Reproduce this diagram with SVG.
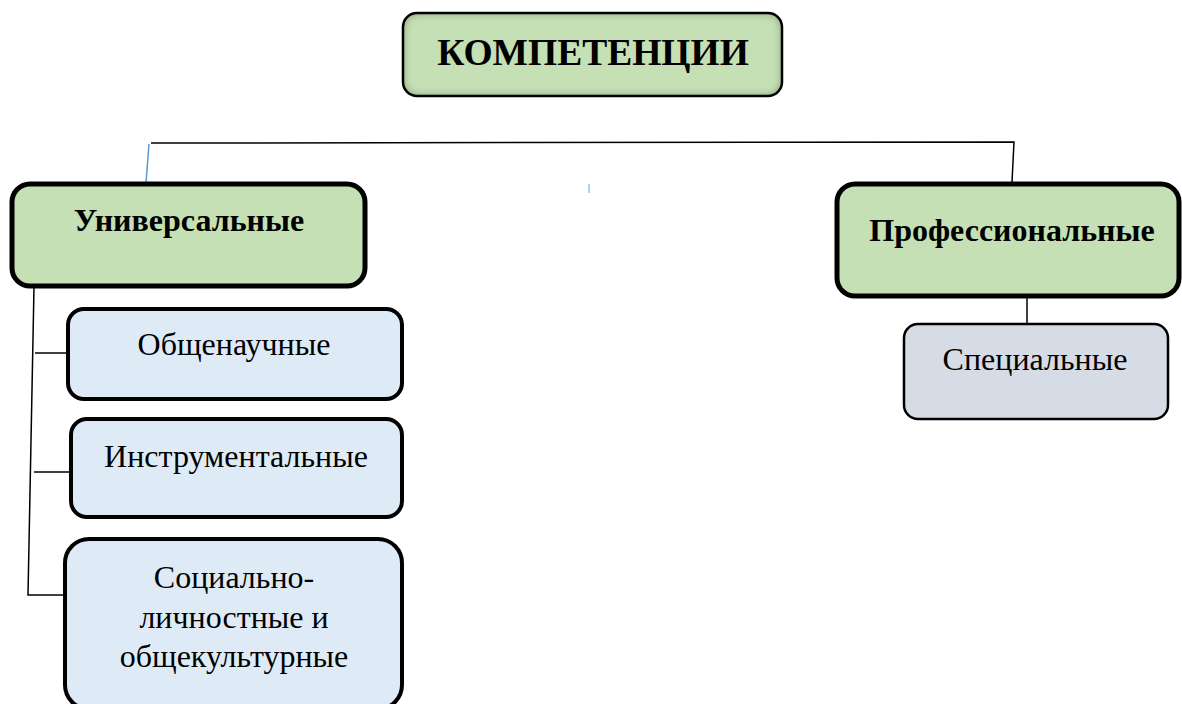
<svg xmlns="http://www.w3.org/2000/svg" width="1182" height="704" viewBox="0 0 1182 704">
<style>
.green{fill:#c5e0b4;stroke:#000}
.blue{fill:#deebf7;stroke:#000;stroke-width:4}
.gray{fill:#d6dce5;stroke:#000;stroke-width:2.5}
.t{font-family:"Liberation Serif","Times New Roman",serif;fill:#000;text-anchor:middle;font-size:32px}
.b{font-weight:bold}
.ln{stroke:#000;stroke-width:1.5;fill:none}
.bl{stroke:#5b9bd5;stroke-width:1.5;fill:none}
</style>
<defs>
<filter id="inner" x="-10%" y="-20%" width="120%" height="140%">
<feFlood flood-color="#000" flood-opacity="1" result="black"/>
<feComposite in="black" in2="SourceAlpha" operator="out" result="outside"/>
<feGaussianBlur in="outside" stdDeviation="5" result="blur"/>
<feComposite in="blur" in2="SourceAlpha" operator="in" result="sh"/>
<feComponentTransfer in="sh" result="shc"><feFuncA type="linear" slope="0.8"/></feComponentTransfer>
<feMerge><feMergeNode in="SourceGraphic"/><feMergeNode in="shc"/></feMerge>
</filter>
</defs>
<g id="connectors">
<polyline class="ln" points="151,143 1014,142 1012,182"/>
<line class="bl" x1="149" y1="144" x2="146" y2="183"/>
<line x1="589" y1="184" x2="589" y2="193" stroke="#9dc3e6" stroke-width="1.5"/>
<polyline class="ln" points="34,287 28,595 63,595"/>
<line class="ln" x1="35" y1="353" x2="67" y2="353"/>
<line class="ln" x1="34" y1="472" x2="70" y2="472"/>
<line class="ln" x1="1027" y1="297" x2="1027" y2="324"/>
</g>
<g id="kompetencii">
<rect class="green" x="403" y="13" width="379" height="83" rx="14" stroke="none" filter="url(#inner)"/>
<rect x="403" y="13" width="379" height="83" rx="14" fill="none" stroke="#000" stroke-width="2.5"/>
<text class="t b" x="593" y="65" style="font-size:37.5px">КОМПЕТЕНЦИИ</text>
</g>
<g id="universalnye">
<rect class="green" x="12" y="184" width="353" height="102" rx="18" stroke-width="5"/>
<text class="t b" x="189" y="231">Универсальные</text>
</g>
<g id="professionalnye">
<rect class="green" x="837" y="184" width="342" height="112" rx="18" stroke-width="5"/>
<text class="t b" x="1012" y="241">Профессиональные</text>
</g>
<g id="specialnye">
<rect class="gray" x="904" y="324" width="264" height="95" rx="14"/>
<text class="t" x="1035" y="370">Специальные</text>
</g>
<g id="obshchenauchnye">
<rect class="blue" x="68" y="309" width="334" height="90" rx="16"/>
<text class="t" x="234" y="355">Общенаучные</text>
</g>
<g id="instrumentalnye">
<rect class="blue" x="71" y="419" width="331" height="98" rx="16"/>
<text class="t" x="236" y="467">Инструментальные</text>
</g>
<g id="socialno">
<rect class="blue" x="65" y="539" width="337" height="170" rx="24" stroke-width="5"/>
<text class="t" x="234" y="588">Социально-</text>
<text class="t" x="234" y="628">личностные и</text>
<text class="t" x="234" y="667">общекультурные</text>
</g>
</svg>
